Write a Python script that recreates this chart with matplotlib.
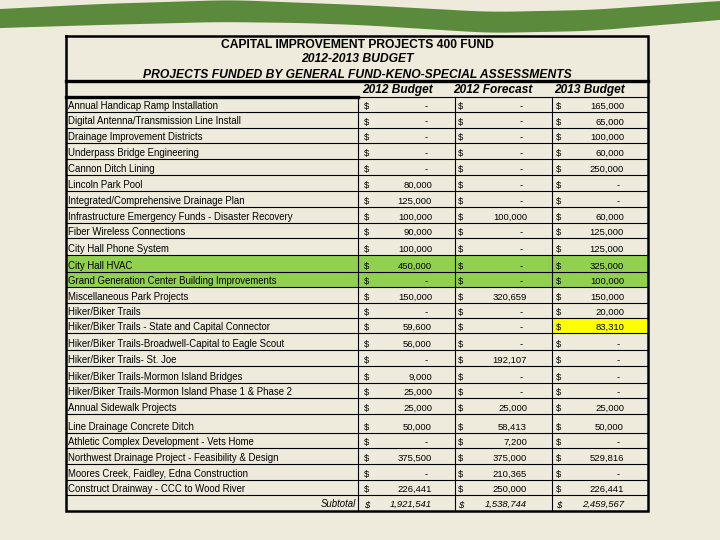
#!/usr/bin/env python3
"""Capital improvement projects 400 fund table, redrawn with matplotlib."""

import numpy as np
import matplotlib
matplotlib.use('Agg')
import matplotlib.pyplot as plt

projects = [
    'Annual Handicap Ramp Installation',
    'Digital Antenna/Transmission Line Install',
    'Drainage Improvement Districts',
    'Underpass Bridge Engineering',
    'Cannon Ditch Lining',
    'Lincoln Park Pool',
    'Integrated/Comprehensive Drainage Plan',
    'Infrastructure Emergency Funds - Disaster Recovery',
    'Fiber Wireless Connections',
    'City Hall Phone System',
    'City Hall HVAC',
    'Grand Generation Center Building Improvements',
    'Miscellaneous Park Projects',
    'Hiker/Biker Trails',
    'Hiker/Biker Trails - State and Capital Connector',
    'Hiker/Biker Trails-Broadwell-Capital to Eagle Scout',
    'Hiker/Biker Trails- St. Joe',
    'Hiker/Biker Trails-Mormon Island Bridges',
    'Hiker/Biker Trails-Mormon Island Phase 1 & Phase 2',
    'Annual Sidewalk Projects',
    'Line Drainage Concrete Ditch',
    'Athletic Complex Development - Vets Home',
    'Northwest Drainage Project - Feasibility & Design',
    'Moores Creek, Faidley, Edna Construction',
    'Construct Drainway - CCC to Wood River',
]
budget_2012 = [0, 0, 0, 0, 0, 80000, 125000, 100000, 90000, 100000, 450000, 0, 150000,
               0, 59600, 56000, 0, 9000, 25000, 25000, 50000, 0, 375500, 0, 226441]
forecast_2012 = [0, 0, 0, 0, 0, 0, 0, 100000, 0, 0, 0, 0, 320659,
                 0, 0, 0, 192107, 0, 0, 25000, 58413, 7200, 375000, 210365, 250000]
budget_2013 = [165000, 65000, 100000, 60000, 250000, 0, 0, 60000, 125000, 125000, 325000, 100000, 150000,
               20000, 83310, 0, 0, 0, 0, 25000, 50000, 0, 529816, 0, 226441]
column_titles = ['2012 Budget', '2012 Forecast', '2013 Budget']
title_lines = ['CAPITAL IMPROVEMENT PROJECTS 400 FUND',
               '2012-2013 BUDGET',
               'PROJECTS FUNDED BY GENERAL FUND-KENO-SPECIAL ASSESSMENTS']
green_rows = ['City Hall HVAC', 'Grand Generation Center Building Improvements']
yellow_cell = ('Hiker/Biker Trails - State and Capital Connector', 2)

# layout (pixels)
row_edges = [97, 112, 127.5, 143.3, 159, 175, 191, 206.7, 222.7, 238.3, 255, 271.7, 286.7,
             302.7, 317.7, 333.3, 350, 366, 383.3, 398.3, 414.3, 433.3, 448.3, 464, 480, 495, 510.7]
left, right, top = 66, 648, 36
col_edges = [358, 455, 552, 648]
BG = '#EFEBDC'
FONT = 'Liberation Sans'
LABEL_FS = 6.9
VALUE_FS = 6.8


def fmt(v):
    return f'{v:,.0f}'


def smooth(xs, px, py, width=25):
    ys = np.interp(xs, px, py)
    k = np.ones(width) / width
    pad = np.pad(ys, width, mode='edge')
    return np.convolve(pad, k, mode='same')[width:-width]


def main():
    fig = plt.figure(figsize=(7.2, 5.4), dpi=100, facecolor=BG)
    ax = fig.add_axes([0, 0, 1, 1])
    ax.set_xlim(0, 720)
    ax.set_ylim(540, 0)
    ax.axis('off')
    ax.set_facecolor(BG)

    # green swoosh at the top
    xs = np.linspace(-20, 740, 400)
    top_edge = smooth(xs, [-20, 0, 100, 230, 360, 490, 590, 720, 740],
                      [10, 9, 4, 0, 5, 12, 10, 1, 0])
    bot_edge = smooth(xs, [-20, 0, 100, 220, 300, 360, 490, 590, 720, 740],
                      [29, 28, 25, 22, 23, 25, 33, 31, 20, 18])
    ax.fill_between(xs, top_edge, bot_edge, color='#5B8A3C', lw=0)

    bottom = row_edges[-1]

    # highlighted rows / cells
    for i, name in enumerate(projects):
        if name in green_rows:
            ax.fill_between([left, right], row_edges[i], row_edges[i + 1], color='#92D050', lw=0)
        if name == yellow_cell[0]:
            c = yellow_cell[1]
            ax.fill_between([col_edges[c], col_edges[c + 1]], row_edges[i], row_edges[i + 1],
                            color='#FFFF00', lw=0)

    # title block
    ax.text(357, 44.5, title_lines[0], ha='center', va='center', fontsize=8.7,
            fontweight='bold', family=FONT)
    ax.text(357, 59.5, title_lines[1], ha='center', va='center', fontsize=8.7,
            fontweight='bold', style='italic', family=FONT)
    ax.text(357, 74.5, title_lines[2], ha='center', va='center', fontsize=8.7,
            fontweight='bold', style='italic', family=FONT)
    centers = [398, 493, 590]
    for cx, t in zip(centers, column_titles):
        ax.text(cx, 90, t, ha='center', va='center', fontsize=8.6,
                fontweight='bold', style='italic', family=FONT)

    # grid lines
    for y in row_edges[1:-1]:
        ax.plot([left, right], [y, y], color='black', lw=0.8)
    ax.plot([col_edges[0], right], [97, 97], color='black', lw=0.8)
    ax.plot([left, col_edges[0]], [97, 97], color='black', lw=2.4)
    ax.plot([left, right], [81, 81], color='black', lw=2.4)
    for x in col_edges[:-1]:
        ax.plot([x, x], [97, bottom], color='black', lw=0.8)
    ax.plot([left, right, right, left, left], [top, top, bottom, bottom, top],
            color='black', lw=1.8, solid_joinstyle='miter')

    # cell texts
    dollar_x = [364, 458, 556]
    value_x = [432, 527, 624]
    series = [budget_2012, forecast_2012, budget_2013]
    for i, name in enumerate(projects):
        yb = row_edges[i + 1] - 3
        ax.text(67.5, yb, name, ha='left', va='baseline', fontsize=LABEL_FS, family=FONT)
        for c, vals in enumerate(series):
            ax.text(dollar_x[c], yb, '$', ha='left', va='baseline', fontsize=VALUE_FS, family=FONT)
            v = vals[i]
            if v:
                ax.text(value_x[c], yb, fmt(v), ha='right', va='baseline',
                        fontsize=VALUE_FS, family=FONT)
            else:
                ax.text(value_x[c] - 4, yb, '-', ha='right', va='baseline',
                        fontsize=VALUE_FS, family=FONT)

    # subtotal row
    yb = row_edges[-1] - 3.5
    ax.text(356, yb, 'Subtotal', ha='right', va='baseline', fontsize=LABEL_FS,
            style='italic', family=FONT)
    for c, vals in enumerate(series):
        ax.text(dollar_x[c], yb, '$', ha='left', va='baseline', fontsize=VALUE_FS,
                style='italic', family=FONT)
        ax.text(value_x[c], yb, fmt(sum(vals)), ha='right', va='baseline', fontsize=VALUE_FS,
                style='italic', family=FONT)

    fig.savefig('out.png', dpi=100, facecolor=BG)
    plt.close(fig)


if __name__ == '__main__':
    main()
